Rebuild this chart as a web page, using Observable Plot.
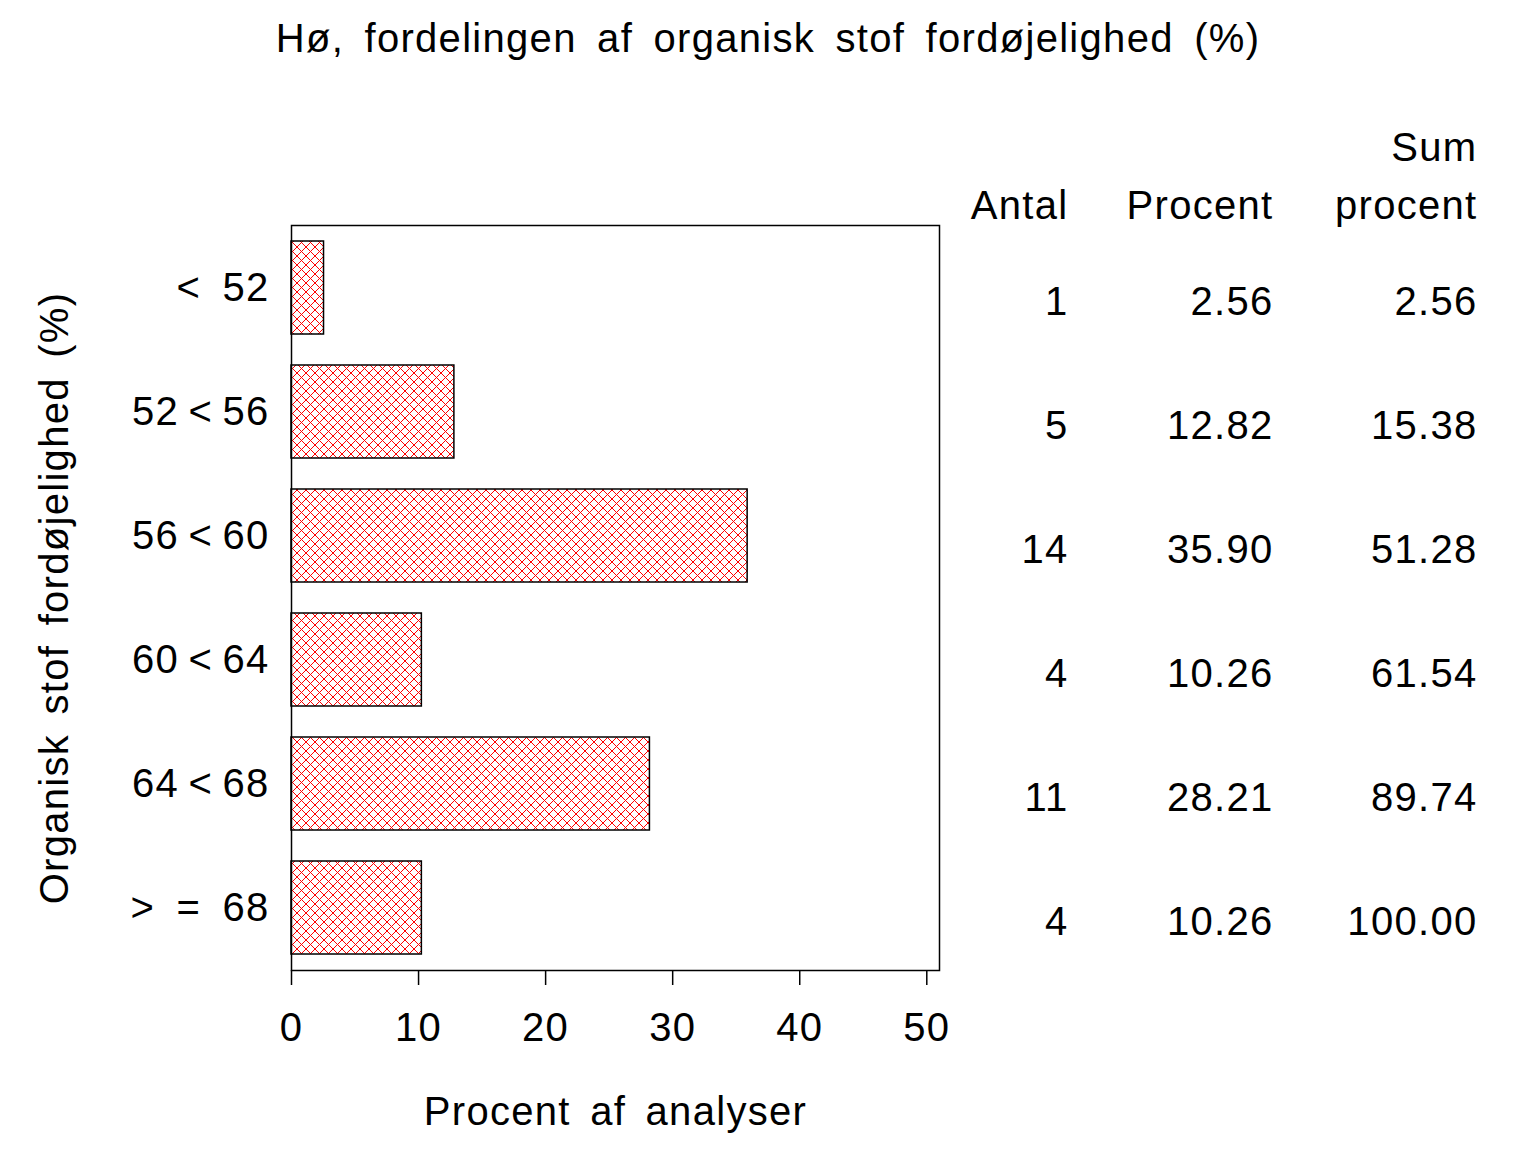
<!DOCTYPE html>
<html>
<head>
<meta charset="utf-8">
<script src="https://cdn.jsdelivr.net/npm/d3@7"></script>
<script src="https://cdn.jsdelivr.net/npm/@observablehq/plot@0.6"></script>
<style>
  html, body { margin: 0; padding: 0; background: white; }
  #wrap { width: 1536px; height: 1152px; position: relative; overflow: hidden; }
  #title { height: 76px; line-height: 76px; text-align: center; font-family: "Liberation Sans", Arial, sans-serif; font-size: 40px; word-spacing: 8px; letter-spacing: 1.3px; color: black; }
  #chart svg text { letter-spacing: 1.3px; word-spacing: 7px; }
</style>
</head>
<body>
<div id="wrap">
  <div id="title">Hø, fordelingen af organisk stof fordøjelighed (%)</div>
  <div id="chart"></div>
</div>
<script>
const categories = ["<\u200252", "52\u2009<\u200956", "56\u2009<\u200960", "60\u2009<\u200964", "64\u2009<\u200968", ">\u2002=\u200268"];
const antal = [1, 5, 14, 4, 11, 4];
const procent = [2.56, 12.82, 35.90, 10.26, 28.21, 10.26];
const sumProcent = [2.56, 15.38, 51.28, 61.54, 89.74, 100.00];
const xTicks = [0, 10, 20, 30, 40, 50];
const headers = { antal: "Antal", procent: "Procent", sumTop: "Sum", sumBottom: "procent" };
const xLabel = "Procent af analyser";
const yLabel = "Organisk stof fordøjelighed (%)";

const rows = categories.map((c, i) => ({ cat: c, antal: antal[i], pct: procent[i], cum: sumProcent[i] }));
const f2 = d3.format(".2f");
const FS = 40;

const chart = Plot.plot({
  width: 1536,
  height: 1076,
  marginLeft: 291,
  marginRight: 597,
  marginTop: 149,
  marginBottom: 182,
  style: { fontFamily: "Liberation Sans, Arial, sans-serif", fontSize: "40px", color: "black", background: "white", overflow: "visible" },
  x: { domain: [0, 51], label: null },
  y: { domain: categories, paddingInner: 0.25, paddingOuter: 0.125, label: null },
  marks: [
    Plot.barX(rows, { x: "pct", y: "cat", fill: "url(#hatch)", stroke: "black", strokeWidth: 1.5 }),
    Plot.frame({ stroke: "black", strokeWidth: 1.5 }),
    Plot.axisX({ ticks: xTicks, tickFormat: d => String(d), tickSize: 15, tickPadding: 27, fontSize: FS, strokeWidth: 1.5, label: null }),
    Plot.axisY({ tickSize: 0, tickPadding: 22, fontSize: FS, label: null }),
    Plot.text(rows, { y: "cat", text: d => String(d.antal), frameAnchor: "right", dx: 129, dy: 14, textAnchor: "end", fontSize: FS }),
    Plot.text(rows, { y: "cat", text: d => f2(d.pct), frameAnchor: "right", dx: 334, dy: 14, textAnchor: "end", fontSize: FS }),
    Plot.text(rows, { y: "cat", text: d => f2(d.cum), frameAnchor: "right", dx: 538, dy: 14, textAnchor: "end", fontSize: FS }),
    Plot.text([headers.antal], { frameAnchor: "top-right", dx: 129, dy: -19, textAnchor: "end", lineAnchor: "middle", fontSize: FS }),
    Plot.text([headers.procent], { frameAnchor: "top-right", dx: 334, dy: -19, textAnchor: "end", lineAnchor: "middle", fontSize: FS }),
    Plot.text([headers.sumBottom], { frameAnchor: "top-right", dx: 538, dy: -19, textAnchor: "end", lineAnchor: "middle", fontSize: FS }),
    Plot.text([headers.sumTop], { frameAnchor: "top-right", dx: 538, dy: -77, textAnchor: "end", lineAnchor: "middle", fontSize: FS }),
    Plot.text([xLabel], { frameAnchor: "bottom", dy: 142, textAnchor: "middle", lineAnchor: "middle", fontSize: FS }),
    Plot.text([yLabel], { frameAnchor: "left", dx: -236, rotate: -90, textAnchor: "middle", lineAnchor: "middle", fontSize: FS })
  ]
});

d3.select(chart).insert("defs", ":first-child").html(
  `<pattern id="hatch" patternUnits="userSpaceOnUse" width="9" height="9">
     <rect width="9" height="9" fill="white"/>
     <path d="M-1,-1 L10,10 M10,-1 L-1,10" stroke="#ff0000" stroke-width="1" fill="none"/>
   </pattern>`
);
document.getElementById("chart").appendChild(chart);
</script>
</body>
</html>
